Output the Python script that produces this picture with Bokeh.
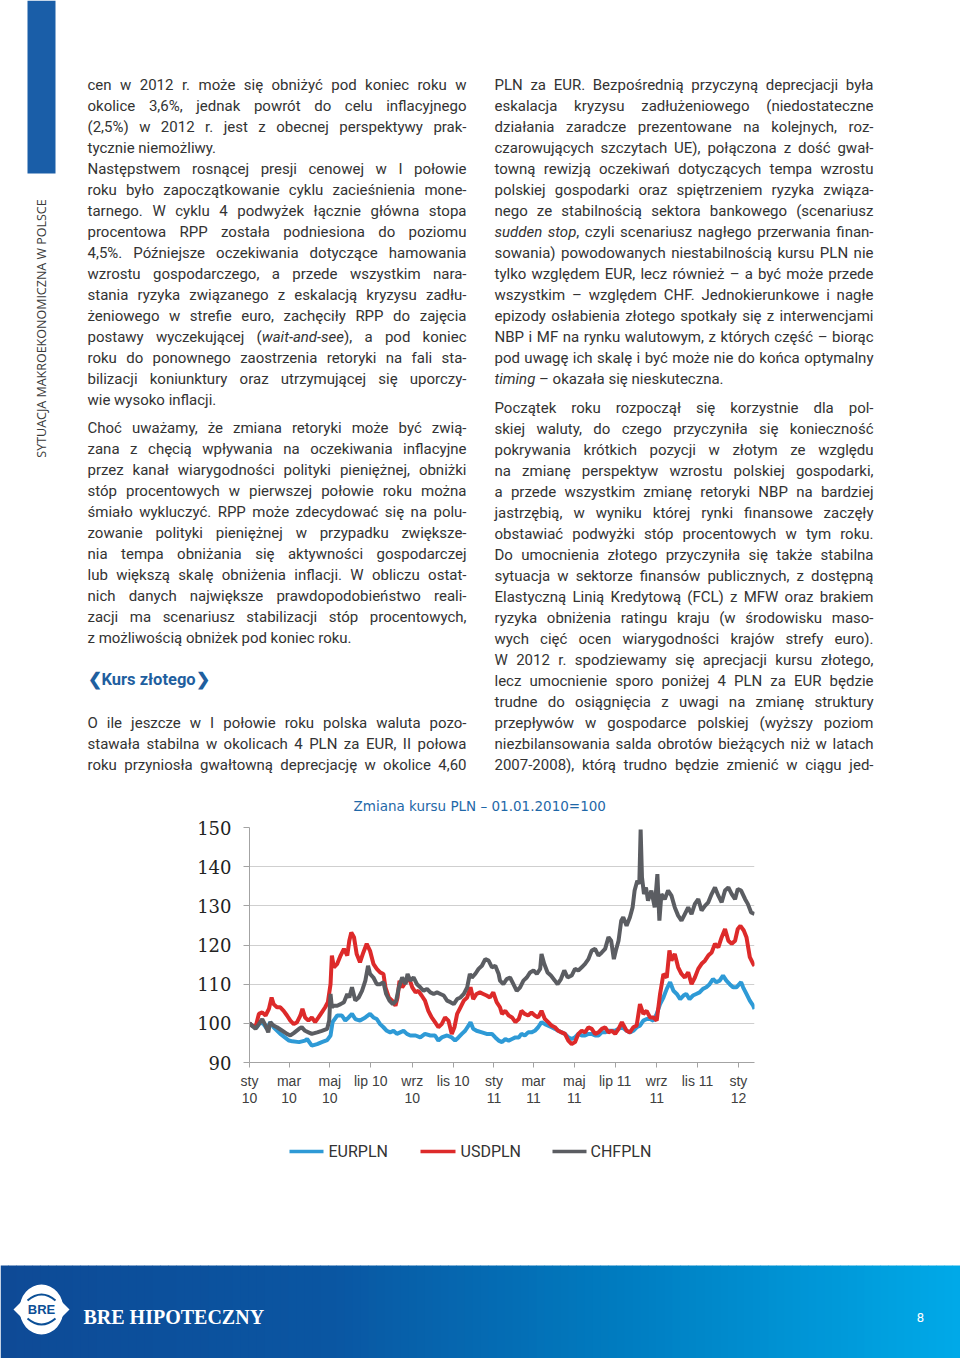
import math, os, glob, subprocess
import pandas as pd
from bokeh.plotting import figure
from bokeh.models import Range1d, FixedTicker, ColumnDataSource, Spacer, LinearAxis
from bokeh.layouts import column, row
from bokeh.embed import file_html
from bokeh.resources import INLINE
from bokeh.core.properties import value, field

# ------------------------------------------------------------------ chart data
CHART_TITLE = "Zmiana kursu PLN \u2013 01.01.2010=100"
BASE_DATE = "2010-01-01"          # day 0 of the series below
TICK_DATES = ["2010-01-01", "2010-03-01", "2010-05-01", "2010-07-01", "2010-09-01",
              "2010-11-01", "2011-01-01", "2011-03-01", "2011-05-01", "2011-07-01",
              "2011-09-01", "2011-11-01", "2012-01-01"]
TICK_LINE1 = ["sty", "mar", "maj", "lip 10", "wrz", "lis 10",
              "sty", "mar", "maj", "lip 11", "wrz", "lis 11", "sty"]
TICK_LINE2 = ["10", "10", "10", "", "10", "",
              "11", "11", "11", "", "11", "", "12"]
Y_TICKS = [90, 100, 110, 120, 130, 140, 150]
SERIES_NAMES = ["EURPLN", "USDPLN", "CHFPLN"]
SERIES_COLORS = ["#2e9ad6", "#dd2a2a", "#5b5d62"]

EUR_DAY = [0, 4, 11, 16, 21, 26, 31, 36, 46, 59, 64, 74, 83, 86, 93, 101, 108, 116, 121, 124,
           131, 138, 143, 148, 153, 158, 165, 173, 180, 185, 190, 195, 200, 205, 210, 215, 220,
           225, 230, 235, 240, 248, 255, 262, 270, 277, 282, 287, 295, 302, 307, 312, 317, 322,
           327, 330, 334, 339, 347, 354, 362, 367, 372, 377, 382, 387, 392, 397, 402, 406, 411,
           416, 421, 426, 431, 436, 441, 446, 451, 456, 461, 466, 471, 476, 481, 486, 491, 496,
           501, 506, 511, 516, 521, 526, 531, 536, 541, 546, 551, 556, 563, 568, 573, 578, 583,
           588, 593, 598, 603, 608, 613, 618, 623, 628, 633, 638, 643, 648, 652, 657, 662, 667,
           672, 677, 682, 687, 692, 697, 702, 707, 712, 717, 722, 727, 734, 737, 742, 747, 752, 754]
EUR = [100.0, 99.4, 99.0, 100.3, 99.8, 98.6, 100.3, 99.0, 97.3, 95.6, 95.4, 95.2, 95.6, 96.0,
       94.3, 94.7, 95.2, 95.7, 96.9, 100.3, 102.0, 102.0, 100.7, 101.5, 102.4, 101.1, 100.7,
       101.5, 102.4, 101.5, 101.1, 99.8, 99.0, 98.1, 97.7, 98.1, 97.3, 97.7, 98.1, 97.3, 96.9,
       96.9, 96.4, 97.3, 96.9, 96.9, 95.6, 96.4, 96.9, 96.4, 95.6, 96.4, 97.3, 98.1, 99.4,
       100.3, 98.6, 98.1, 97.7, 97.3, 97.3, 96.4, 95.6, 95.2, 96.0, 95.6, 96.0, 96.4, 96.4,
       97.3, 96.9, 97.7, 97.7, 98.1, 99.0, 100.3, 99.8, 99.4, 99.0, 98.6, 98.1, 97.7, 97.3,
       96.4, 96.0, 96.4, 97.3, 96.9, 96.9, 97.3, 97.3, 96.9, 96.9, 97.7, 97.7, 98.1, 98.1,
       98.1, 98.6, 99.0, 98.1, 97.7, 98.1, 99.0, 99.4, 100.7, 101.1, 101.1, 100.7, 102.4,
       104.9, 106.6, 108.8, 110.5, 108.3, 107.5, 106.2, 107.1, 107.5, 106.2, 107.1, 107.5,
       107.9, 108.8, 109.2, 110.0, 111.3, 110.5, 110.9, 112.2, 110.9, 110.0, 109.2, 109.2,
       110.5, 109.2, 107.5, 105.8, 104.5, 103.7]

USD_DAY = [0, 4, 9, 14, 19, 24, 29, 33, 36, 41, 46, 51, 56, 61, 66, 71, 76, 79, 83, 88, 93, 98,
           103, 108, 113, 117, 121, 123, 126, 131, 136, 141, 146, 149, 152, 156, 160, 165, 170,
           175, 180, 185, 190, 195, 200, 203, 208, 213, 218, 221, 224, 228, 233, 238, 243, 248,
           252, 257, 262, 267, 272, 277, 282, 287, 292, 297, 302, 306, 310, 315, 320, 325, 330,
           334, 339, 344, 349, 354, 359, 364, 369, 374, 377, 382, 387, 392, 397, 402, 406, 411,
           416, 421, 426, 431, 436, 441, 446, 451, 456, 461, 466, 471, 476, 481, 486, 491, 496,
           501, 506, 511, 516, 521, 526, 531, 536, 541, 546, 551, 556, 563, 568, 573, 578, 583,
           588, 593, 598, 603, 608, 613, 618, 623, 627, 630, 635, 640, 645, 650, 655, 660, 665,
           670, 675, 680, 685, 690, 695, 700, 705, 710, 715, 720, 725, 729, 733, 738, 742, 747,
           752, 754]
USD = [100.0, 99.4, 99.0, 102.4, 102.8, 102.0, 103.7, 106.6, 104.9, 104.1, 104.1, 103.2, 102.0,
       100.7, 99.8, 100.3, 102.0, 103.7, 101.5, 100.7, 101.5, 100.3, 101.5, 102.8, 104.1, 105.4,
       110.0, 117.3, 114.3, 115.2, 117.3, 119.0, 117.3, 121.1, 123.2, 122.0, 117.7, 115.6, 118.1,
       120.3, 118.5, 115.2, 113.9, 113.0, 112.6, 109.2, 106.6, 105.8, 104.5, 106.6, 110.9, 109.2,
       110.5, 111.7, 109.2, 107.9, 108.3, 107.1, 105.8, 103.2, 101.5, 100.3, 99.0, 99.8, 101.5,
       100.7, 97.3, 99.0, 102.4, 104.1, 105.8, 106.6, 109.2, 106.2, 107.5, 107.9, 107.5, 107.1,
       106.6, 107.9, 105.4, 104.1, 102.4, 103.2, 102.0, 101.5, 100.3, 101.1, 103.2, 102.4, 102.0,
       102.8, 102.0, 101.5, 103.2, 101.1, 100.3, 99.4, 99.0, 98.1, 97.7, 97.3, 95.6, 94.7, 95.2,
       97.3, 98.1, 97.7, 99.0, 98.6, 97.3, 97.7, 98.6, 99.0, 97.7, 98.1, 97.3, 98.6, 100.3, 98.1,
       97.7, 99.0, 99.4, 104.9, 102.4, 103.2, 101.5, 101.5, 100.7, 107.5, 112.6, 111.7, 118.6,
       116.0, 117.7, 114.3, 112.6, 111.7, 113.0, 110.0, 111.7, 113.9, 115.2, 116.0, 117.3, 118.1,
       120.3, 119.4, 122.0, 124.1, 121.1, 120.3, 121.1, 124.1, 124.9, 123.7, 122.0, 116.9, 115.2,
       114.7]

CHF_DAY = [0, 4, 9, 14, 19, 24, 28, 31, 36, 41, 49, 56, 61, 66, 74, 78, 83, 88, 93, 101, 108,
           116, 119, 121, 123, 126, 131, 136, 141, 146, 149, 153, 158, 163, 168, 173, 177, 180,
           185, 190, 195, 200, 204, 209, 214, 219, 223, 228, 233, 236, 240, 245, 250, 255, 260,
           265, 270, 275, 280, 285, 290, 295, 300, 305, 310, 315, 320, 325, 329, 332, 337, 342,
           347, 352, 357, 362, 367, 372, 374, 379, 384, 389, 394, 399, 404, 409, 414, 419, 424,
           429, 434, 436, 440, 445, 450, 456, 460, 465, 470, 475, 481, 486, 491, 496, 501, 506,
           511, 516, 521, 526, 531, 536, 540, 544, 547, 551, 555, 558, 563, 568, 572, 575, 579,
           582, 584, 586, 589, 592, 595, 600, 605, 609, 612, 615, 620, 625, 630, 635, 640, 645,
           650, 655, 660, 665, 670, 675, 680, 685, 690, 695, 700, 705, 710, 715, 720, 725, 729,
           734, 740, 744, 749, 754]
CHF = [100.0, 99.4, 98.6, 99.8, 101.1, 99.4, 97.7, 100.3, 99.4, 99.0, 98.1, 97.3, 96.9, 97.5,
       98.6, 99.0, 98.1, 97.7, 97.3, 97.7, 98.1, 98.6, 100.7, 107.5, 104.1, 104.5, 104.5, 104.9,
       105.4, 107.5, 106.6, 109.2, 105.8, 106.6, 108.3, 110.9, 114.7, 112.6, 111.7, 110.0, 110.0,
       110.5, 107.5, 105.8, 104.9, 105.8, 109.2, 111.7, 110.0, 112.6, 110.9, 111.7, 110.0, 109.2,
       108.3, 108.8, 107.9, 107.5, 107.9, 107.5, 107.1, 105.8, 105.4, 104.9, 106.2, 106.6, 107.5,
       109.2, 112.6, 111.7, 112.6, 113.9, 114.7, 116.4, 116.0, 114.3, 114.7, 112.6, 110.9, 110.0,
       111.3, 111.7, 110.0, 108.3, 109.2, 110.9, 111.7, 113.0, 113.5, 112.6, 113.9, 117.7, 115.2,
       113.0, 112.2, 110.9, 110.0, 111.3, 113.5, 111.7, 112.2, 113.9, 113.5, 114.3, 115.2, 116.4,
       118.6, 119.0, 117.3, 118.1, 119.0, 122.0, 121.1, 116.4, 118.6, 121.1, 126.2, 127.1, 124.9,
       127.1, 129.6, 133.9, 136.4, 135.6, 149.5, 137.3, 133.0, 134.7, 131.3, 133.9, 129.6, 138.1,
       126.2, 133.0, 131.7, 133.9, 132.6, 129.6, 127.5, 126.2, 127.9, 129.6, 127.9, 130.5, 131.7,
       128.8, 130.0, 130.9, 133.0, 134.7, 132.6, 130.9, 133.9, 134.7, 133.0, 131.7, 134.3, 133.9,
       131.7, 130.5, 128.3, 127.9]

# ------------------------------------------------------------------ page texts
SIDEBAR = "SYTUACJA MAKROEKONOMICZNA W POLSCE"
HEADING = "Kurs złotego"
BRAND = "BRE HIPOTECZNY"
PAGE_NO = "8"

LEFT_A = [
    "cen w 2012 r. może się obniżyć pod koniec roku w",
    "okolice 3,6%, jednak powrót do celu inflacyjnego",
    "(2,5%) w 2012 r. jest z obecnej perspektywy prak-",
    "tycznie niemożliwy.",
]
LEFT_B = [
    "Następstwem rosnącej presji cenowej w I połowie",
    "roku było zapoczątkowanie cyklu zacieśnienia mone-",
    "tarnego. W cyklu 4 podwyżek łącznie główna stopa",
    "procentowa RPP została podniesiona do poziomu",
    "4,5%. Późniejsze oczekiwania dotyczące hamowania",
    "wzrostu gospodarczego, a przede wszystkim nara-",
    "stania ryzyka związanego z eskalacją kryzysu zadłu-",
    "żeniowego w strefie euro, zachęciły RPP do zajęcia",
    "postawy wyczekującej (*wait-and-see*), a pod koniec",
    "roku do ponownego zaostrzenia retoryki na fali sta-",
    "bilizacji koniunktury oraz utrzymującej się uporczy-",
    "wie wysoko inflacji.",
]
LEFT_C = [
    "Choć uważamy, że zmiana retoryki może być zwią-",
    "zana z chęcią wpływania na oczekiwania inflacyjne",
    "przez kanał wiarygodności polityki pieniężnej, obniżki",
    "stóp procentowych w pierwszej połowie roku można",
    "śmiało wykluczyć. RPP może zdecydować się na polu-",
    "zowanie polityki pieniężnej w przypadku zwiększe-",
    "nia tempa obniżania się aktywności gospodarczej",
    "lub większą skalę obniżenia inflacji. W obliczu ostat-",
    "nich danych największe prawdopodobieństwo reali-",
    "zacji ma scenariusz stabilizacji stóp procentowych,",
    "z możliwością obniżek pod koniec roku.",
]
LEFT_D = [
    "O ile jeszcze w I połowie roku polska waluta pozo-",
    "stawała stabilna w okolicach 4 PLN za EUR, II połowa",
    "roku przyniosła gwałtowną deprecjację w okolice 4,60",
]
RIGHT_E = [
    "PLN za EUR. Bezpośrednią przyczyną deprecjacji była",
    "eskalacja kryzysu zadłużeniowego (niedostateczne",
    "działania zaradcze prezentowane na kolejnych, roz-",
    "czarowujących szczytach UE), połączona z dość gwał-",
    "towną rewizją oczekiwań dotyczących tempa wzrostu",
    "polskiej gospodarki oraz spiętrzeniem ryzyka związa-",
    "nego ze stabilnością sektora bankowego (scenariusz",
    "*sudden* *stop*, czyli scenariusz nagłego przerwania finan-",
    "sowania) powodowanych niestabilnością kursu PLN nie",
    "tylko względem EUR, lecz również \u2013 a być może przede",
    "wszystkim \u2013 względem CHF. Jednokierunkowe i nagłe",
    "epizody osłabienia złotego spotkały się z interwencjami",
    "NBP i MF na rynku walutowym, z których część \u2013 biorąc",
    "pod uwagę ich skalę i być może nie do końca optymalny",
    "*timing* \u2013 okazała się nieskuteczna.",
]
RIGHT_F = [
    "Początek roku rozpoczął się korzystnie dla pol-",
    "skiej waluty, do czego przyczyniła się konieczność",
    "pokrywania krótkich pozycji w złotym ze względu",
    "na zmianę perspektyw wzrostu polskiej gospodarki,",
    "a przede wszystkim zmianę retoryki NBP na bardziej",
    "jastrzębią, w wyniku której rynki finansowe zaczęły",
    "obstawiać podwyżki stóp procentowych w tym roku.",
    "Do umocnienia złotego przyczyniła się także stabilna",
    "sytuacja w sektorze finansów publicznych, z dostępną",
    "Elastyczną Linią Kredytową (FCL) z MFW oraz brakiem",
    "ryzyka obniżenia ratingu kraju (w środowisku maso-",
    "wych cięć ocen wiarygodności krajów strefy euro).",
    "W 2012 r. spodziewamy się aprecjacji kursu złotego,",
    "lecz umocnienie sporo poniżej 4 PLN za EUR będzie",
    "trudne do osiągnięcia z uwagi na zmianę struktury",
    "przepływów w gospodarce polskiej (wyższy poziom",
    "niezbilansowania salda obrotów bieżących niż w latach",
    "2007-2008), którą trudno będzie zmienić w ciągu jed-",
]

# ------------------------------------------------------------------ styles / layout
PAGE_W = 960
BODY_FONT = "Roboto"
BODY_COLOR = "#333333"
COL_W = 379
LINE_H = 21
# (lines, left x, first baseline, last line justified?)
BLOCKS = [
    (LEFT_A, 87, 84, False),
    (LEFT_B, 87, 168, False),
    (LEFT_C, 87, 427, False),
    (LEFT_D, 87, 722, True),
    (RIGHT_E, 494, 84, False),
    (RIGHT_F, 494, 407, True),
]


def _find_font(family, style):
    key = family.replace(" ", "").lower()
    try:
        out = subprocess.run(["fc-match", "-f", "%{file}", f"{family}:style={style}"],
                             capture_output=True, text=True, timeout=10).stdout.strip()
        if out and key in os.path.basename(out).replace(" ", "").lower():
            return out
    except Exception:
        pass
    for root in ("/usr/share/fonts", "/usr/local/share/fonts",
                 os.path.expanduser("~/.fonts"), os.path.expanduser("~/.local/share/fonts")):
        for ext in ("ttf", "otf"):
            hits = glob.glob(os.path.join(root, "**", f"{family.replace(' ', '')}-{style}.{ext}"),
                             recursive=True)
            if hits:
                return sorted(hits)[0]
    return None


_FONTS = {}
try:
    from PIL import ImageFont
    _reg = _find_font(BODY_FONT, "Regular")
    _ita = _find_font(BODY_FONT, "Italic") or _reg
    _FONTS[False] = ImageFont.truetype(_reg, 200)
    _FONTS[True] = ImageFont.truetype(_ita, 200)
    CAN_MEASURE = True
except Exception:
    CAN_MEASURE = False


def text_w(s, italic, size):
    if CAN_MEASURE:
        f = _FONTS[italic]
        try:
            w = f.getlength(s)
        except AttributeError:
            w = f.getsize(s)[0]
        return w * size / 200.0
    return 0.5 * size * len(s)


def segments(tok):
    parts = tok.split("*")
    return [(p, i % 2 == 1) for i, p in enumerate(parts) if p]


def pick_size():
    if not CAN_MEASURE:
        return 13.5
    best = 15.0
    sp = text_w(" ", False, 1.0)
    for lines, _x, _y, last_j in BLOCKS:
        for k, line in enumerate(lines):
            if k == len(lines) - 1 and not last_j:
                continue
            toks = [segments(t) for t in line.split()]
            nat = sum(text_w(s, it, 1.0) for tok in toks for s, it in tok)
            best = min(best, COL_W / (nat + 0.55 * (len(toks) - 1) * sp))
    return best


FS = pick_size()


def body_source():
    xs, ys, ts, st = [], [], [], []
    space = text_w(" ", False, FS)
    for lines, x0, b0, last_j in BLOCKS:
        for k, line in enumerate(lines):
            y = b0 + k * LINE_H
            if not CAN_MEASURE:
                xs.append(x0); ys.append(y); ts.append(line.replace("*", "")); st.append("normal")
                continue
            justify = (k < len(lines) - 1) or last_j
            toks = [segments(t) for t in line.split()]
            widths = [sum(text_w(s, it, FS) for s, it in tok) for tok in toks]
            gap = (COL_W - sum(widths)) / (len(toks) - 1) if (justify and len(toks) > 1) else space
            x = x0
            for tok, w in zip(toks, widths):
                xx = x
                for s, it in tok:
                    xs.append(xx); ys.append(y); ts.append(s)
                    st.append("italic" if it else "normal")
                    xx += text_w(s, it, FS)
                x += w + gap
    return ColumnDataSource(dict(x=xs, y=ys, t=ts, st=st))


def page_fig(y0, y1):
    p = figure(width=PAGE_W, height=y1 - y0, x_range=Range1d(0, PAGE_W), y_range=Range1d(y1, y0),
               output_backend="svg", toolbar_location=None, min_border=0,
               x_axis_location=None, y_axis_location=None, outline_line_color=None)
    p.grid.visible = False
    return p


# page bands: top text (+ chart title) | chart | legend + footer
TOP_END, CHART_END, PAGE_END = 815, 1125, 1358
FRAME_TOP, FRAME_BOTTOM = 827, 1062
CH_LEFT, CH_W, FRAME_LEFT, FRAME_RIGHT = 190, 580, 249, 754

# ------------------------------------------------------------------ top page part
top = page_fig(0, TOP_END)
top.quad(left=27, right=55, top=0, bottom=173, fill_color="#1a5ea8", line_color=None)
top.text(x=[41], y=[328], text=[SIDEBAR], angle=math.pi / 2, text_align="center",
         text_baseline="middle", text_font=value("Open Sans"), text_font_size=value("12.5px"),
         text_color="#3a3a3a")
top.text(x="x", y="y", text="t", source=body_source(), text_font=value(BODY_FONT),
         text_font_size=value(f"{FS:.2f}px"), text_font_style=field("st"),
         text_color=BODY_COLOR, text_align="left", text_baseline="alphabetic")
top.text(x=[87], y=[679], text=["\u276e" + HEADING + "\u276f"], text_font=value(BODY_FONT),
         text_font_size=value("16.5px"), text_font_style="bold", text_color="#1f5f9f",
         text_align="left", text_baseline="alphabetic")
# chart title
top.text(x=[353], y=[805], text=[CHART_TITLE], text_align="left", text_baseline="middle",
         text_font=value("DejaVu Sans"), text_font_size=value("13.5px"), text_color="#1f68a8")

# ------------------------------------------------------------------ chart
base = pd.Timestamp(BASE_DATE)
tick_days = [(pd.Timestamp(d) - base).days for d in TICK_DATES]

ch = figure(width=CH_W, height=CHART_END - TOP_END, x_range=Range1d(0, EUR_DAY[-1]),
            y_range=Range1d(Y_TICKS[0], Y_TICKS[-1]), output_backend="svg",
            toolbar_location=None, min_border_left=FRAME_LEFT - CH_LEFT,
            min_border_right=CH_LEFT + CH_W - FRAME_RIGHT,
            min_border_top=FRAME_TOP - TOP_END, min_border_bottom=CHART_END - FRAME_BOTTOM,
            outline_line_color=None)

for d, v, c in ((EUR_DAY, EUR, SERIES_COLORS[0]), (USD_DAY, USD, SERIES_COLORS[1]),
                (CHF_DAY, CHF, SERIES_COLORS[2])):
    ch.line(d, v, line_color=c, line_width=4)

ch.xgrid.visible = False
ch.ygrid.ticker = FixedTicker(ticks=Y_TICKS)
ch.ygrid.grid_line_color = "#cfcfcf"
ch.xaxis.ticker = FixedTicker(ticks=tick_days)
ch.xaxis.major_label_overrides = {d: lab for d, lab in zip(tick_days, TICK_LINE1)}
ch.yaxis.ticker = FixedTicker(ticks=Y_TICKS)
for ax in (ch.xaxis[0], ch.yaxis[0]):
    ax.axis_line_color = "#a3a3a3"
    ax.major_tick_line_color = "#a3a3a3"
    ax.minor_tick_line_color = None
    ax.major_tick_in = 0
ch.xaxis.major_tick_out = 5
ch.xaxis.major_label_standoff = 5
ch.yaxis.major_tick_out = 6
ch.yaxis.major_label_standoff = 12
ch.yaxis.major_label_text_font = "DejaVu Serif"
ch.yaxis.major_label_text_font_size = "18px"
ch.yaxis.major_label_text_color = "#222222"

# second row of the month labels (year part)
ax2 = LinearAxis(ticker=FixedTicker(ticks=tick_days),
                 major_label_overrides={d: lab for d, lab in zip(tick_days, TICK_LINE2)},
                 axis_line_color=None, major_tick_line_color=None, minor_tick_line_color=None,
                 major_tick_in=0, major_tick_out=0, major_label_standoff=1)
ch.add_layout(ax2, "below")
for ax in (ch.xaxis[0], ax2):
    ax.major_label_text_font = "Liberation Sans"
    ax.major_label_text_font_size = "14px"
    ax.major_label_text_color = "#404040"

# ------------------------------------------------------------------ bottom page part
bot = page_fig(CHART_END, PAGE_END)

# legend of the chart
LEG_Y = 1151
LEG_KEYS = [(289, 323, 328), (420, 455, 460), (552, 586, 590)]
for (x0, x1, xt), name, col in zip(LEG_KEYS, SERIES_NAMES, SERIES_COLORS):
    bot.segment(x0=x0, y0=LEG_Y, x1=x1, y1=LEG_Y, line_color=col, line_width=3.5)
    bot.text(x=[xt], y=[LEG_Y], text=[name], text_align="left", text_baseline="middle",
             text_font=value("Roboto"), text_font_size=value("16px"), text_color="#333333")

STOPS = [(0, (14, 74, 150)), (330, (10, 86, 162)), (620, (0, 124, 192)), (960, (0, 170, 232))]


def grad(x):
    for (xa, ca), (xb, cb) in zip(STOPS[:-1], STOPS[1:]):
        if xa <= x <= xb:
            t = (x - xa) / (xb - xa)
            c = [round(a + (b - a) * t) for a, b in zip(ca, cb)]
            return "#%02x%02x%02x" % tuple(c)
    return "#%02x%02x%02x" % STOPS[-1][1]


lefts = list(range(0, PAGE_W, 8))
bot.quad(left=lefts, right=[l + 8.5 for l in lefts], top=1265, bottom=PAGE_END + 2,
         fill_color=[grad(l + 4) for l in lefts], line_color=None)
bot.ellipse(x=41, y=1309, width=44, height=50, fill_color="white", line_color=None)
bot.patch([13, 22, 22], [1309, 1300, 1318], fill_color="white", line_color=None)
bot.patch([69, 60, 60], [1309, 1300, 1318], fill_color="white", line_color=None)
bot.quadratic(x0=[27, 27], y0=[1300, 1318], x1=[55, 55], y1=[1300, 1318], cx=[41, 41],
              cy=[1288, 1330], line_color="#0b4f96", line_width=2)
bot.text(x=[41], y=[1309], text=["BRE"], text_align="center", text_baseline="middle",
         text_font=value("Liberation Sans"), text_font_size=value("13px"),
         text_font_style="bold", text_color="#0b4f96")
bot.text(x=[83], y=[1316], text=[BRAND], text_align="left", text_baseline="alphabetic",
         text_font=value("Liberation Serif"), text_font_size=value("20px"),
         text_font_style="bold", text_color="white")
bot.text(x=[920], y=[1317], text=[PAGE_NO], text_align="center", text_baseline="alphabetic",
         text_font=value("Roboto"), text_font_size=value("13px"), text_color="white")

CH_H = CHART_END - TOP_END
layout = column(top,
                row(Spacer(width=CH_LEFT, height=CH_H), ch,
                    Spacer(width=PAGE_W - CH_LEFT - CH_W, height=CH_H)),
                bot)
open("out.html", "w").write(file_html(layout, INLINE, title="Zmiana kursu PLN"))
